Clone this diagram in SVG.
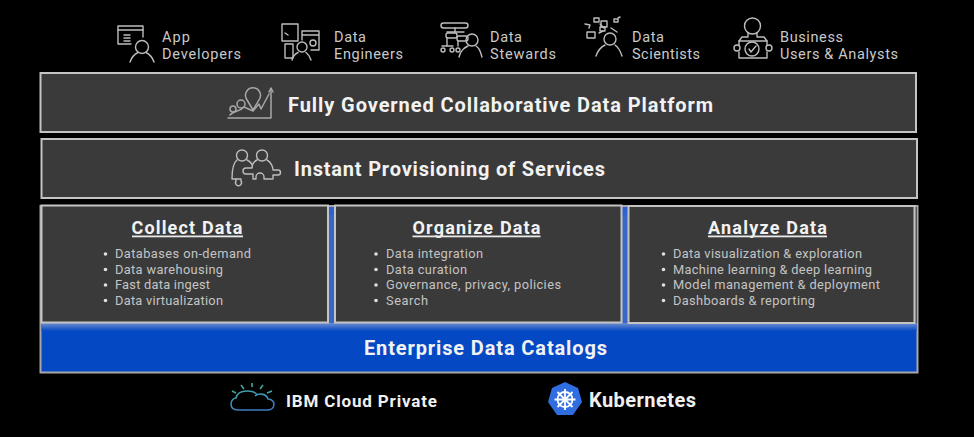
<svg xmlns="http://www.w3.org/2000/svg" width="974" height="437" viewBox="0 0 974 437">
<style>
text{font-family:Roboto,"Noto Sans","Liberation Sans",sans-serif}
.role{font-size:14.500px;fill:#c9c9c9}
.box{fill:#3a3a3a;stroke:#c4c4c4;stroke-width:2}
.big{font-size:20px;font-weight:700;fill:#f2f2f2}
.hd{font-size:18px;font-weight:700;fill:#f2f2f2;text-anchor:middle}
.ul{fill:#e8e8e8}
.li{font-size:12.800px;fill:#c4c4c4}
.dot{fill:#e0e0e0}
.ic{fill:none;stroke:#bdbdbd;stroke-width:1.400;stroke-linecap:round;stroke-linejoin:round}
.ic2{fill:none;stroke:#a8a8a8;stroke-width:1.500;stroke-linecap:round;stroke-linejoin:round}
</style>
<defs>
<g id="person"><circle cx="0" cy="-12" r="6.500"/><path d="M-12 3C-10 -3 -7 -5 -4 -6.500M12 3C10 -3 7 -5 4 -6.500"/></g>
<linearGradient id="cl" x1="0" y1="0" x2="0.600" y2="1"><stop offset="0" stop-color="#3fa6a0"/><stop offset="1" stop-color="#3f78c8"/></linearGradient>
<linearGradient id="band" x1="0" y1="0" x2="0" y2="1"><stop offset="0" stop-color="#6f8ed0"/><stop offset="1" stop-color="#0448c4"/></linearGradient>
</defs>
<rect width="974" height="437" fill="#000"/>

<g id="app-developers">
<g class="ic"><path d="M131 44H118V26H143V37"/><path d="M118 30H143M124 35H130M124 38H130M124 41H130"/><use href="#person" x="142" y="59"/></g>
<text class="role" x="162" y="42" textLength="28">App</text><text class="role" x="162" y="59" textLength="79">Developers</text>
</g>
<g id="data-engineers">
<g class="ic"><rect x="282" y="24" width="16" height="17"/><path d="M285 33L288 35M302 31H319V50H311M302 31V40M302 35H319"/><rect x="285" y="44" width="8" height="14"/><circle cx="313" cy="43" r="3"/><circle cx="302" cy="47" r="5"/><path d="M292 60C293 56 295 54 298 52.500M311 60C310 56 308 54 306 52.500"/></g>
<text class="role" x="334" y="42" textLength="32">Data</text><text class="role" x="334" y="59" textLength="69">Engineers</text>
</g>
<g id="data-stewards">
<g class="ic"><rect x="441" y="23" width="27" height="5" rx="2.500"/><path d="M455 28V32M447 32H464"/><rect x="446" y="33" width="11" height="5" rx="2"/><rect x="457" y="36" width="11" height="5" rx="2"/><path d="M447 38V46M442 46H453M458 41V46"/><circle cx="443" cy="50" r="2"/><circle cx="452" cy="50" r="2"/><circle cx="458" cy="50" r="2"/><circle cx="472" cy="40" r="6"/><path d="M459 57C461 50 464 48 468 46M482 57C480 50 479 48 476 46"/></g>
<text class="role" x="490" y="42" textLength="32">Data</text><text class="role" x="490" y="59" textLength="66">Stewards</text>
</g>
<g id="data-scientists">
<g class="ic"><rect x="594" y="18" width="5" height="4"/><rect x="601" y="21" width="6" height="6"/><rect x="587" y="32" width="8" height="6"/><rect x="600" y="27" width="5" height="4"/><rect x="614" y="19" width="4" height="3"/><path d="M585 24L590 25 589 28M600 24L604 28M618 18L620 17M611 28L617 32M599 33L603 31"/><circle cx="610" cy="39" r="6"/><path d="M596 56C598 50 601 47 605 45M622 56C620 50 618 47 615 45"/></g>
<text class="role" x="632" y="42" textLength="32">Data</text><text class="role" x="632" y="59" textLength="68">Scientists</text>
</g>
<g id="business-users">
<g class="ic"><circle cx="752.500" cy="26" r="8"/><path d="M748 33V37H742L739 41H767L764 37H757V33"/><path d="M739 41V45M767 41V45M739 52V58H767V52"/><circle cx="737" cy="48" r="3"/><circle cx="769" cy="48" r="3"/><circle cx="752" cy="49" r="7"/><path d="M749 49L751 52 756 46"/></g>
<text class="role" x="780" y="42" textLength="63">Business</text><text class="role" x="780" y="59" textLength="118">Users &amp; Analysts</text>
</g>

<g id="platform">
<rect class="box" x="40.500" y="73" width="875.500" height="59"/>
<g class="ic2"><path d="M228 118H271V89"/><path d="M269 92L271 88 273 92"/><path d="M230 115C234 110 240 112 244 107L253 111 259 104 261 109 269 94"/><path d="M253 110L246.500 99A7.500 7.500 0 1 1 259.500 99Z"/><circle cx="241" cy="104" r="4"/><circle cx="233" cy="109" r="3"/></g>
<text class="big" x="288" y="112" textLength="425">Fully Governed Collaborative Data Platform</text>
</g>
<g id="provisioning">
<rect class="box" x="41.500" y="139" width="875.500" height="59"/>
<g class="ic"><circle cx="242" cy="155.500" r="5.500"/><circle cx="262" cy="155.500" r="5.500"/><path d="M237 160C233 163 232 170 232 179H236M247 160C251 162 253 165 252 168H246A2.500 2.500 0 0 0 246 174H253V179M257 160C253 162 252 165 252 168M267 160C271 162 273 167 273 170H278A2.500 2.500 0 0 1 278 175H273V179H264V177A4 4 0 0 0 256 177V179H253"/><path d="M236 179H241V181A3 3 0 1 1 236 181Z"/></g>
<text class="big" x="294" y="176" textLength="311">Instant Provisioning of Services</text>
</g>
<g id="catalog">
<rect x="40.500" y="206" width="877" height="166.500" fill="#0448c4" stroke="#a8a8a8" stroke-width="2"/>
<rect x="41.500" y="323" width="875" height="8" fill="url(#band)"/>
<rect x="328" y="207" width="7" height="8" fill="#2c62d0"/>
<rect x="622" y="207" width="6" height="8" fill="#2c62d0"/>
<rect x="328" y="215" width="7" height="108" fill="#3a66c8"/>
<rect x="622" y="215" width="6" height="108" fill="#3a66c8"/>
<rect x="915" y="207" width="2" height="116" fill="#555"/>
<text class="big" x="485.500" y="355" text-anchor="middle" textLength="243">Enterprise Data Catalogs</text>
</g>
<g id="collect">
<rect class="box" x="41.500" y="205.500" width="286.500" height="117"/>
<text class="hd" x="187" y="234" textLength="111">Collect Data</text><rect class="ul" x="132" y="235.500" width="111" height="1.800"/>
<circle class="dot" cx="105.500" cy="254" r="1.800"/><circle class="dot" cx="105.500" cy="269.500" r="1.800"/><circle class="dot" cx="105.500" cy="285" r="1.800"/><circle class="dot" cx="105.500" cy="300.500" r="1.800"/>
<text class="li" x="115" y="258" textLength="136">Databases on-demand</text><text class="li" x="115" y="273.500" textLength="108">Data warehousing</text><text class="li" x="115" y="289" textLength="95">Fast data ingest</text><text class="li" x="115" y="304.500" textLength="108">Data virtualization</text>
</g>
<g id="organize">
<rect class="box" x="335" y="205.500" width="286.500" height="117"/>
<text class="hd" x="476.500" y="234" textLength="128">Organize Data</text><rect class="ul" x="412.500" y="235.500" width="128" height="1.800"/>
<circle class="dot" cx="376" cy="254" r="1.800"/><circle class="dot" cx="376" cy="269.500" r="1.800"/><circle class="dot" cx="376" cy="285" r="1.800"/><circle class="dot" cx="376" cy="300.500" r="1.800"/>
<text class="li" x="386" y="258" textLength="97">Data integration</text><text class="li" x="386" y="273.500" textLength="81">Data curation</text><text class="li" x="386" y="289" textLength="175">Governance, privacy, policies</text><text class="li" x="386" y="304.500" textLength="42">Search</text>
</g>
<g id="analyze">
<rect class="box" x="628.500" y="206" width="286" height="117"/>
<text class="hd" x="767.500" y="234" textLength="119">Analyze Data</text><rect class="ul" x="708" y="235.500" width="119" height="1.800"/>
<circle class="dot" cx="663.500" cy="254" r="1.800"/><circle class="dot" cx="663.500" cy="269.500" r="1.800"/><circle class="dot" cx="663.500" cy="285" r="1.800"/><circle class="dot" cx="663.500" cy="300.500" r="1.800"/>
<text class="li" x="673" y="258" textLength="189">Data visualization &amp; exploration</text><text class="li" x="673" y="273.500" textLength="199">Machine learning &amp; deep learning</text><text class="li" x="673" y="289" textLength="207">Model management &amp; deployment</text><text class="li" x="673" y="304.500" textLength="142">Dashboards &amp; reporting</text>
</g>
<g id="ibm-cloud">
<path d="M257 395C256 393 252 391 247 391C241 391 237 393 236 398C234 398 231 400 231 404C231 408 234 410 238 410H268C271 410 274 408 274 404C274 402 272 399 268 399C266 393 258 393 255 396" fill="none" stroke="url(#cl)" stroke-width="1.600"/>
<path d="M232 391L236 393M241 385L244 389M252 383V387M263 385L260 389M272 391L267 393" stroke="#3fa6a0" stroke-width="1.600" fill="none"/>
<text x="286" y="407" font-size="17" font-weight="700" fill="#f0f0f0" textLength="151">IBM Cloud Private</text>
</g>
<g id="kubernetes">
<polygon points="565,382 578,388 582,402 573,415 557,415 548,402 552,388" fill="#2f6de0"/>
<g fill="none" stroke="#fff" stroke-width="1.800"><circle cx="565" cy="399.500" r="7.500"/><path d="M565 389V410M554.500 399.500H575.500M557.500 392L572.500 407M572.500 392L557.500 407"/></g>
<text x="589" y="407" font-size="20" font-weight="700" fill="#f0f0f0" textLength="107">Kubernetes</text>
</g>
</svg>
